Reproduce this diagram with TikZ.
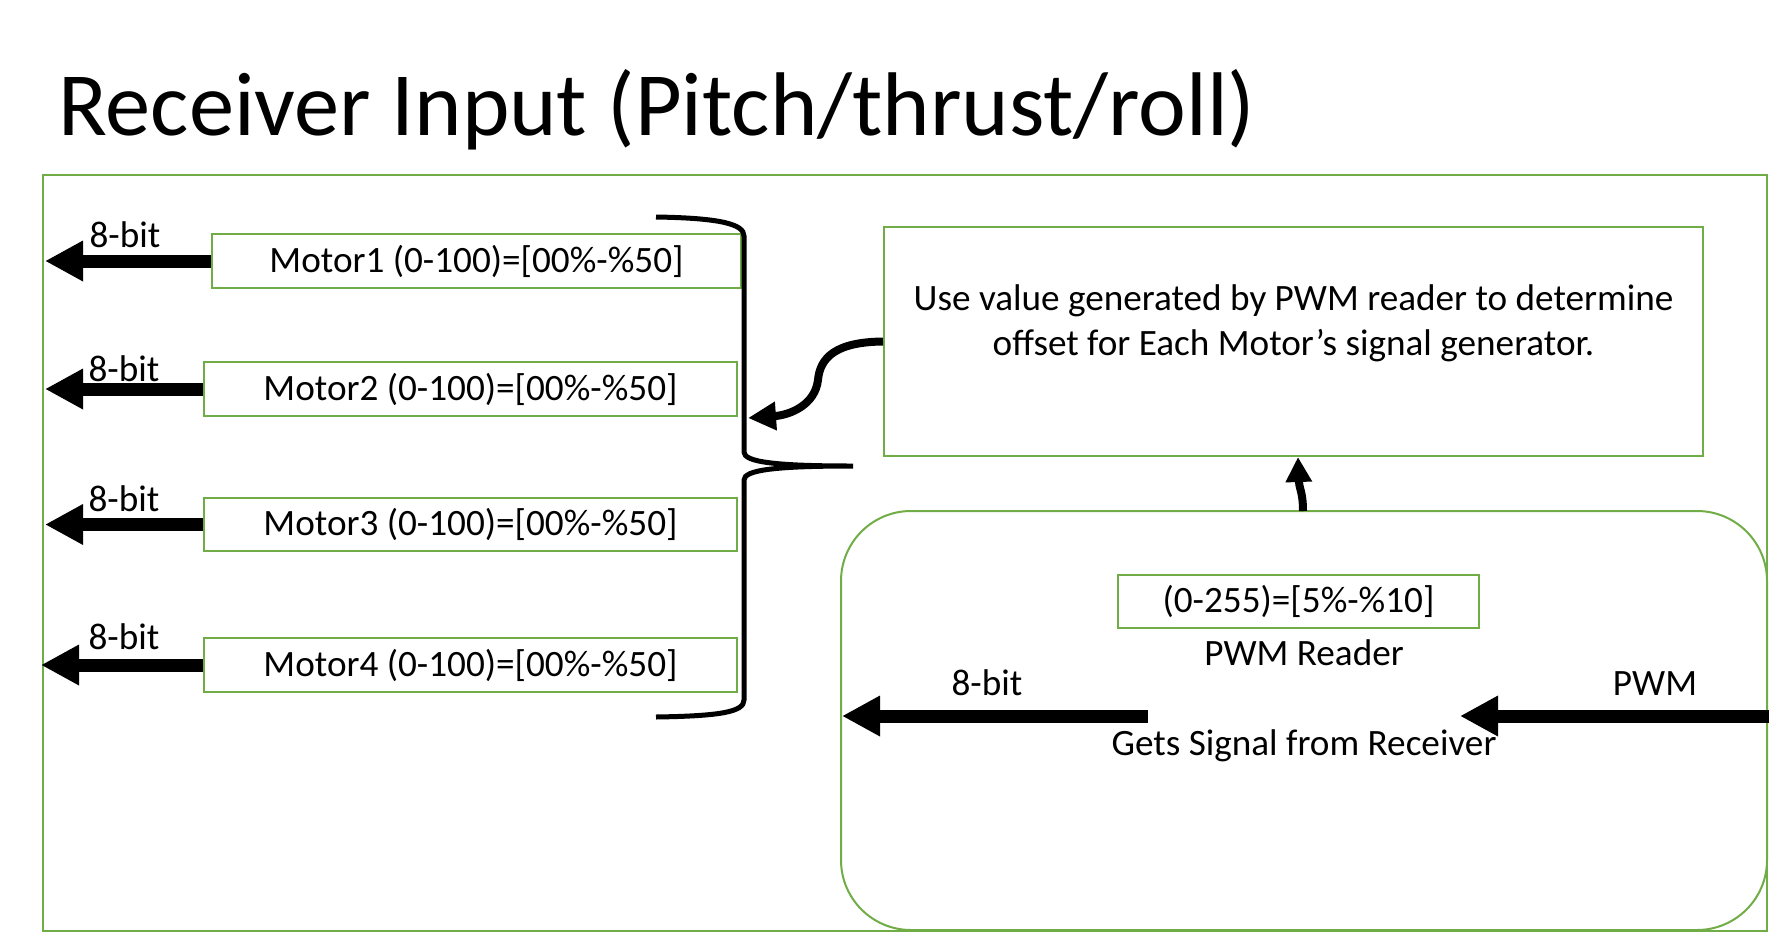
\documentclass[tikz,border=0pt]{standalone}
\usepackage{fontspec}
\setmainfont{Carlito}
\usetikzlibrary{arrows.meta}
\definecolor{frameGreen}{HTML}{70AD47}
\newcommand\myBody{\fontsize{18.6}{22.5}\selectfont}
\newcommand\myTitle{\fontsize{45.2}{54}\selectfont}
\begin{document}
\begin{tikzpicture}[x=0.5pt,y=-0.5pt,
  gbox/.style={draw=frameGreen, line width=1pt, inner sep=0pt, font=\myBody, fill=white},
  fat/.style={line width=6.5pt, -{Triangle[length=19pt,width=19pt]}},
  thinarr/.style={line width=4pt, -{Triangle[length=14pt,width=13.5pt]}},
  lbl/.style={font=\myBody, inner sep=0pt, anchor=base},
]
\useasboundingbox (0,0) rectangle (1769,933);
% title
\node[font=\myTitle, inner sep=0pt, anchor=base west] (title) at (58,135) {Receiver Input (Pitch/thrust/roll)};
% outer frame
\draw[frameGreen, line width=1pt] (43,175) rectangle (1767,931);

% motor boxes
\node[gbox, minimum width=264.5pt, minimum height=27pt] (m1) at (476.5,261) {Motor1 (0-100)=[00\%-\%50]};
\node[gbox, minimum width=266.5pt, minimum height=27pt] (m2) at (470.5,389) {Motor2 (0-100)=[00\%-\%50]};
\node[gbox, minimum width=266.5pt, minimum height=26.5pt] (m3) at (470.5,524.5) {Motor3 (0-100)=[00\%-\%50]};
\node[gbox, minimum width=266.5pt, minimum height=27pt] (m4) at (470.5,665) {Motor4 (0-100)=[00\%-\%50]};

\coordinate (e1) at (45,261);
\coordinate (e2) at (45,389);
\coordinate (e3) at (45,524.5);
\coordinate (e4) at (41,665);
\draw[fat] (m1.west) -- (e1);
\draw[fat] (m2.west) -- (e2);
\draw[fat] (m3.west) -- (e3);
\draw[fat] (m4.west) -- (e4);
\node[lbl] (b1) at (125,247) {8-bit};
\node[lbl] (b2) at (124,381) {8-bit};
\node[lbl] (b3) at (124,511) {8-bit};
\node[lbl] (b4) at (124,649) {8-bit};

% brace
\coordinate (bt) at (853,466);
\draw[line width=2.5pt]
  (656,217) .. controls (720,218) and (744,224) .. (744,236) -- (744,452)
  .. controls (744,462) and (775,466) .. (bt)
  .. controls (775,466) and (744,470) .. (744,480) -- (744,700)
  .. controls (744,712) and (720,716) .. (656,717);

% description box
\node[gbox, minimum width=409.5pt, minimum height=114.5pt, align=center] (desc) at (1293.5,341.5)
  {Use value generated by PWM reader to determine\\offset for Each Motor’s signal generator.\\[-8pt]\strut};
\coordinate (ct) at (748,418);
\draw[thinarr] (desc.west) .. controls (835,342) and (820,358) .. (818,380)
  .. controls (815,405) and (790,415) .. (ct);

% reader rounded box
\node[draw=frameGreen, line width=1pt, rounded corners=35pt, minimum width=463pt, minimum height=209.5pt, inner sep=0pt] (rd) at (1304,720.5) {};
\coordinate (us) at (1303,511);
\coordinate (ue) at (1298,457);
\draw[line width=4pt, -{Triangle[length=12.5pt,width=12.5pt]}] (us) .. controls (1303,492) and (1299,488) .. (ue);

\node[gbox, minimum width=180.5pt, minimum height=26.5pt] (val) at (1298.5,601.5) {(0-255)=[5\%-\%10]};
\node[lbl] (pr) at (1304,665) {PWM Reader};
\node[lbl] (b5) at (987,695) {8-bit};
\node[lbl] (pw) at (1655,695) {PWM};
\node[lbl] (gs) at (1304,755) {Gets Signal from Receiver};
\coordinate (l1) at (1148,716);
\coordinate (l2) at (842,716);
\coordinate (r1) at (1769,716);
\coordinate (r2) at (1460,716);
\draw[fat] (l1) -- (l2);
\draw[fat] (r1) -- (r2);
\end{tikzpicture}
\end{document}
